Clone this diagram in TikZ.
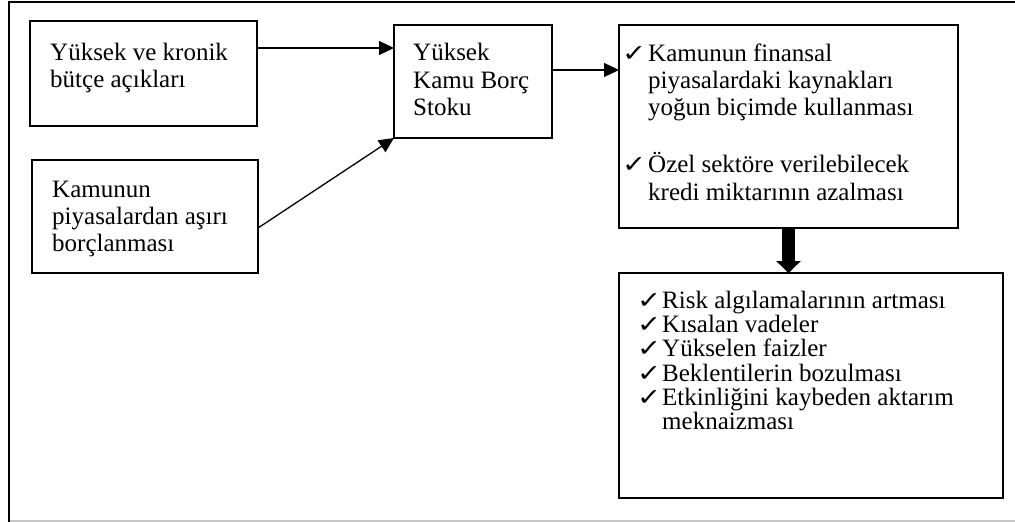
\documentclass[tikz,border=0pt]{standalone}
\usepackage{fontspec}
\usepackage{graphicx}
\setmainfont{Liberation Serif}
\newfontfamily\symfont{DejaVu Sans}
\usetikzlibrary{arrows.meta}
\newcommand\chk{\scalebox{1.15}[0.95]{\symfont\fontsize{25}{25}\selectfont ✓}}
\begin{document}
\begin{tikzpicture}[x=1pt,y=-1pt,
  box/.style={draw, line width=1.3pt, rectangle, inner sep=0pt, outer sep=0pt, anchor=north west},
  txt/.style={anchor=base west, inner sep=0pt, font=\fontsize{25}{28}\selectfont},
  ck/.style={anchor=base west, inner sep=0pt},
  arr/.style={line width=1.3pt, -{Triangle[length=15pt,width=14pt]}},
  bigarr/.style={line width=13pt, -{Triangle[length=12pt,width=24pt]}},
]
\useasboundingbox (0,0) rectangle (1015,522);
% outer frame (cropped)
\draw[line width=2pt] (9,522) -- (9,1.5) -- (1015,1.5);
\draw[black!22, line width=2pt] (10,520.5) -- (1015,520.5);

% boxes
\node[box, minimum width=227pt, minimum height=105pt] (b1) at (30,21) {};
\node[box, minimum width=226pt, minimum height=113pt] (b2) at (32,160) {};
\node[box, minimum width=158pt, minimum height=113pt] (b3) at (394,25) {};
\node[box, minimum width=339pt, minimum height=203pt] (b4) at (619,25) {};
\node[box, minimum width=384pt, minimum height=225pt] (b5) at (619,273) {};

% box 1 text
\node[txt] (t11) at (50,60) {Yüksek ve kronik};
\node[txt] (t12) at (50,87.5) {bütçe açıkları};
% box 2 text
\node[txt] (t21) at (52,197) {Kamunun};
\node[txt] (t22) at (52,224) {piyasalardan aşırı};
\node[txt] (t23) at (52,251) {borçlanması};
% box 3 text
\node[txt] (t31) at (413,60) {Yüksek};
\node[txt] (t32) at (413,88) {Kamu Borç};
\node[txt] (t33) at (413,115) {Stoku};
% box 4 text
\node[ck] (c41) at (622,61) {\chk};
\node[txt] (t41) at (648,61) {Kamunun finansal};
\node[txt] (t42) at (648,88) {piyasalardaki kaynakları};
\node[txt] (t43) at (648,115) {yoğun biçimde kullanması};
\node[ck] (c42) at (622,172) {\chk};
\node[txt] (t44) at (648,172) {Özel sektöre verilebilecek};
\node[txt] (t45) at (648,200) {kredi miktarının azalması};
% box 5 text
\node[ck] (c51) at (637,308) {\chk};
\node[txt] (t51) at (662,308) {Risk algılamalarının artması};
\node[ck] (c52) at (637,332.3) {\chk};
\node[txt] (t52) at (662,332.3) {Kısalan vadeler};
\node[ck] (c53) at (637,356.6) {\chk};
\node[txt] (t53) at (662,356.6) {Yükselen faizler};
\node[ck] (c54) at (637,381) {\chk};
\node[txt] (t54) at (662,381) {Beklentilerin bozulması};
\node[ck] (c55) at (637,405.3) {\chk};
\node[txt] (t55) at (662,405.3) {Etkinliğini kaybeden aktarım};
\node[txt] (t56) at (662,429.6) {meknaizması};

% connectors
\coordinate (y1) at (0,48);
\coordinate (y2) at (0,228);
\coordinate (y3) at (0,70);
\draw[arr] (b1.east |- y1) -- (b3.west |- y1);
\draw[arr] (b2.east |- y2) -- (b3.south west);
\draw[arr] (b3.east |- y3) -- (b4.west |- y3);
\draw[bigarr] (b4.south) -- (b4.south |- b5.north);
\end{tikzpicture}
\end{document}
